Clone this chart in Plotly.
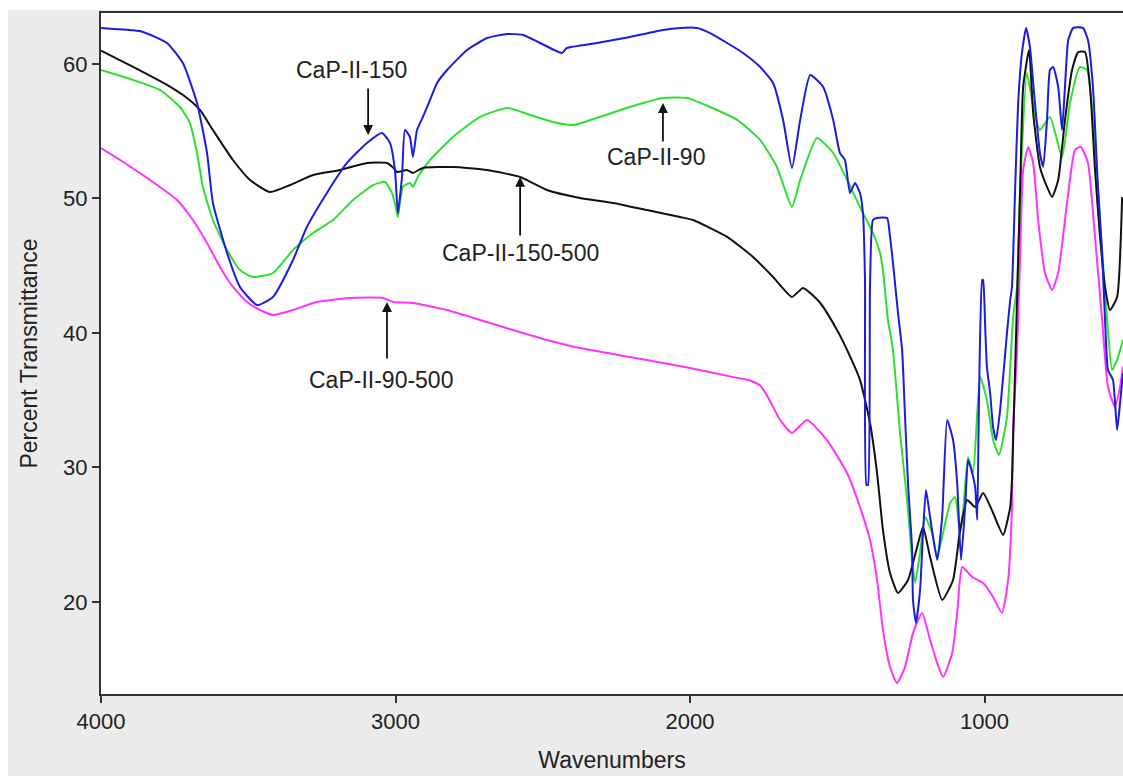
import plotly.graph_objects as go

# ---- data (wavenumber cm-1, percent transmittance) ----
wn_150 = [4000, 3891, 3857, 3776, 3722, 3674, 3640, 3620, 3572, 3528, 3470, 3416, 3348, 3301, 3233,
          3165, 3097, 3046, 3019, 3002, 2992, 2978, 2968, 2951, 2941, 2927, 2907, 2883, 2859, 2825,
          2757, 2689, 2621, 2567, 2509, 2435, 2418, 2316, 2204, 2092, 2034, 1976, 1932, 1874, 1820,
          1762, 1718, 1684, 1654, 1626, 1592, 1548, 1514, 1491, 1474, 1457, 1440, 1423, 1413, 1406,
          1401, 1396, 1389, 1379, 1365, 1331, 1321, 1311, 1294, 1280, 1270, 1260, 1246, 1243, 1233,
          1219, 1209, 1199, 1185, 1161, 1144, 1127, 1107, 1093, 1080, 1066, 1056, 1042, 1032, 1025,
          1019, 1008, 1005, 998, 992, 981, 971, 961, 947, 924, 913, 907, 896, 886, 873, 859, 846,
          829, 812, 801, 788, 778, 767, 750, 737, 727, 716, 699, 666, 649, 632, 615, 601, 591, 581,
          564, 550, 540, 530]
t_150 = [62.68, 62.5, 62.38, 61.56, 60.07, 57.10, 53.38, 49.67, 45.95, 43.42, 42.08, 42.68, 45.43, 47.88, 50.41,
         52.64, 54.13, 54.87, 54.13, 52.12, 48.92, 51.6, 55.09, 54.57, 53.09, 55.09, 56.06, 57.32, 58.59, 59.55,
         61.04, 61.93, 62.23, 62.16, 61.56, 60.82, 61.19, 61.56, 62.01, 62.53, 62.68, 62.68, 62.30, 61.56, 60.82,
         59.78, 58.59, 55.84, 52.27, 55.84, 59.18, 58.29, 55.84, 53.38, 52.86, 50.41, 51.15, 50.41, 48.92, 43.94,
         28.70, 28.70, 43.5, 48.40, 48.55, 48.55, 47.14, 45.20, 41.49, 38.74, 33.75, 28.85, 23.87, 20.15, 18.44,
         20.89, 25.13, 28.33, 26.32, 23.12, 26.32, 33.53, 32.04, 28.85, 23.12, 27.06, 30.56, 29.59, 28.55, 26.10,
         35.02, 43.94, 43.94, 40.5, 37.47, 35.5, 33.0, 32.04, 34.3, 40.00, 42.45, 43.42, 50.86, 57.10, 60.82, 62.68, 61.26,
         57.10, 53.38, 52.34, 55.84, 59.55, 59.78, 58.29, 55.09, 58.29, 61.78, 62.68, 62.68, 61.78, 58.29, 50.86, 45.95, 40.97, 37.25,
         36.51, 32.79, 34.80, 37.0]

wn_150_500 = [4000, 3891, 3776, 3708, 3664, 3620, 3552, 3494, 3426, 3358, 3280, 3188, 3097, 3029, 3008,
              2995, 2961, 2941, 2907, 2805, 2689, 2577, 2486, 2374, 2261, 2146, 2034, 1990, 1874, 1786,
              1718, 1654, 1616, 1558, 1501, 1467, 1423, 1389, 1365, 1345, 1321, 1294, 1260, 1229, 1209,
              1185, 1144, 1107, 1083, 1059, 1032, 1005, 971, 937, 913, 907, 903, 879, 869, 849, 835, 812,
              788, 771, 750, 727, 703, 682, 659, 642, 625, 608, 591, 574, 550, 533]
t_150_500 = [61.0, 59.78, 58.44, 57.47, 56.58, 55.09, 52.86, 51.38, 50.48, 51.00, 51.75, 52.12, 52.64, 52.64, 52.3,
             51.97, 52.12, 51.90, 52.27, 52.34, 52.12, 51.60, 50.63, 50.04, 49.67, 49.14, 48.62, 48.40, 47.14, 45.65,
             44.16, 42.68, 43.35, 42.23, 40.22, 38.74, 36.51, 33.31, 29.59, 25.35, 22.16, 20.67, 21.64, 24.09, 25.58,
             23.35, 20.15, 21.64, 25.35, 27.58, 27.06, 28.10, 26.62, 24.98, 27.06, 29.07, 32.04, 50.86, 58.29, 61.04, 56.36, 52.34,
             50.86, 50.11, 51.38, 55.84, 59.55, 60.89, 60.89, 58.29, 52.12, 47.14, 43.42, 41.71, 42.68, 50.1]

wn_90 = [4000, 3891, 3800, 3732, 3698, 3674, 3654, 3620, 3572, 3528, 3484, 3416, 3348, 3280, 3212,
         3144, 3076, 3036, 3012, 2995, 2992, 2975, 2951, 2941, 2924, 2883, 2805, 2713, 2621, 2543,
         2465, 2397, 2316, 2204, 2092, 2010, 1932, 1840, 1762, 1705, 1654, 1626, 1569, 1514, 1467,
         1423, 1379, 1355, 1345, 1328, 1311, 1287, 1263, 1246, 1236, 1219, 1202, 1178, 1161, 1141,
         1117, 1100, 1083, 1073, 1056, 1039, 1015, 992, 971, 951, 924, 903, 890, 879, 856, 835, 812,
         778, 737, 710, 676, 652, 632, 608, 584, 567, 550, 530]
t_90 = [59.55, 58.81, 58.07, 56.80, 55.61, 53.38, 50.86, 48.40, 46.17, 44.68, 44.16, 44.46, 46.17, 47.43, 48.40,
        49.89, 51.00, 51.23, 50.41, 48.92, 48.62, 50.86, 51.15, 50.86, 51.60, 52.86, 54.57, 56.06, 56.73, 56.21,
        55.69, 55.46, 55.99, 56.80, 57.47, 57.47, 56.80, 55.84, 54.35, 52.34, 49.37, 51.38, 54.50, 53.38, 51.38,
        49.37, 47.43, 45.95, 44.68, 40.97, 38.74, 32.57, 27.58, 23.12, 21.41, 23.64, 26.32, 25.13, 23.35, 25.13,
        27.36, 27.81, 25.13, 26.62, 30.78, 29.59, 36.73, 35.02, 32.04, 30.93, 33.75, 41.19, 43.42, 50.86, 59.33, 56.80, 55.09,
        56.06, 53.09, 57.10, 59.78, 59.55, 55.84, 48.40, 40.97, 37.25, 38.0, 39.5]

wn_90_500 = [4000, 3935, 3834, 3742, 3688, 3640, 3596, 3552, 3504, 3460, 3416, 3348, 3267, 3154, 3042,
             3008, 2941, 2825, 2713, 2601, 2486, 2374, 2200, 2000, 1850, 1800, 1762, 1740, 1694, 1654,
             1603, 1535, 1467, 1423, 1389, 1365, 1345, 1321, 1297, 1270, 1243, 1212, 1185, 1161, 1141,
             1110, 1093, 1076, 1042, 1005, 971, 941, 920, 907, 903, 890, 879, 869, 852, 835, 818, 795,
             771, 750, 720, 693, 673, 649, 625, 601, 581, 557, 540, 530]
t_90_500 = [53.75, 52.86, 51.38, 49.89, 48.40, 46.69, 44.91, 43.42, 42.30, 41.71, 41.34, 41.71, 42.30, 42.60, 42.60,
            42.30, 42.23, 41.71, 40.97, 40.22, 39.48, 38.88, 38.2, 37.4, 36.7, 36.5, 36.1, 35.4, 33.53, 32.57,
            33.53, 32.04, 29.59, 27.06, 24.61, 21.64, 17.92, 15.17, 13.97, 15.17, 17.70, 19.18, 17.17, 15.46, 14.42,
            16.21, 19.18, 22.60, 21.86, 21.41, 20.37, 19.18, 21.64, 27.06, 33.0, 38.51, 45.95, 52.12, 53.83, 52.64, 48.40, 44.46,
            43.20, 44.46, 49.67, 53.61, 53.83, 52.64, 47.14, 40.97, 35.99, 34.50, 35.99, 37.5]

x_ticks = [4000, 3000, 2000, 1000]
y_ticks = [20, 30, 40, 50, 60]

series = [
    ("CaP-II-90-500", wn_90_500, t_90_500, "#ff33ff"),
    ("CaP-II-90", wn_90, t_90, "#2de02d"),
    ("CaP-II-150-500", wn_150_500, t_150_500, "#111111"),
    ("CaP-II-150", wn_150, t_150, "#1c1cdc"),
]

fig = go.Figure()
for name, x, y, c in series:
    fig.add_trace(go.Scatter(x=x, y=y, mode="lines", name=name,
                             line=dict(color=c, width=2, shape="spline", smoothing=0.5),
                             showlegend=False))

font_family = "Liberation Sans, Arial, sans-serif"

# label text, text position (wn, T), arrow head (wn, T), tail offset (px)
labels = [
    ("CaP-II-150", 3150, 59.55, 3093, 54.72, -48),
    ("CaP-II-90", 2115, 53.09, 2092, 57.1, 40),
    ("CaP-II-150-500", 2577, 45.95, 2577, 51.6, 60),
    ("CaP-II-90-500", 3050, 36.5, 3029, 42.3, 58),
]
for txt, tx, ty, hx, hy, off in labels:
    fig.add_annotation(x=tx, y=ty, text=txt, showarrow=False,
                       font=dict(family=font_family, size=23, color="#222222"))
    fig.add_annotation(x=hx, y=hy, text="", showarrow=True, ax=0, ay=off,
                       arrowhead=2, arrowsize=1.1, arrowwidth=1.8, arrowcolor="#111111")

fig.update_layout(
    width=1123, height=776,
    margin=dict(l=101, r=0, t=13, b=82, autoexpand=False),
    paper_bgcolor="#ebebeb",
    plot_bgcolor="#ffffff",
    font=dict(family=font_family, size=22, color="#222222"),
    shapes=[
        dict(type="rect", xref="paper", yref="paper", x0=-0.2, x1=-0.0910, y0=-0.3, y1=1.1,
             fillcolor="white", line=dict(width=0), layer="below"),
        dict(type="rect", xref="paper", yref="paper", x0=-0.2, x1=1.1, y0=1.0044, y1=1.1,
             fillcolor="white", line=dict(width=0), layer="below"),
    ],
)
fig.update_xaxes(range=[4000, 530], tickvals=x_ticks, ticks="outside", ticklen=7, tickwidth=2,
                 tickcolor="#333333", showline=True, linewidth=2, linecolor="#333333", mirror=True,
                 showgrid=False, zeroline=False, automargin=False,
                 title=dict(text="Wavenumbers", standoff=18, font=dict(size=23)),
                 tickfont=dict(size=22))
fig.update_yaxes(range=[13.16, 63.79], tickvals=y_ticks, ticks="outside", ticklen=7, tickwidth=2,
                 tickcolor="#333333", showline=True, linewidth=2, linecolor="#333333",
                 showgrid=False, zeroline=False, automargin=False,
                 title=dict(text="Percent Transmittance", standoff=19, font=dict(size=23)),
                 tickfont=dict(size=22))

fig.write_html("out.html",
               config={"displayModeBar": False},
               post_script="document.body.style.margin='0';"
                           "document.documentElement.style.overflow='hidden';"
                           "document.body.style.overflow='hidden';")
